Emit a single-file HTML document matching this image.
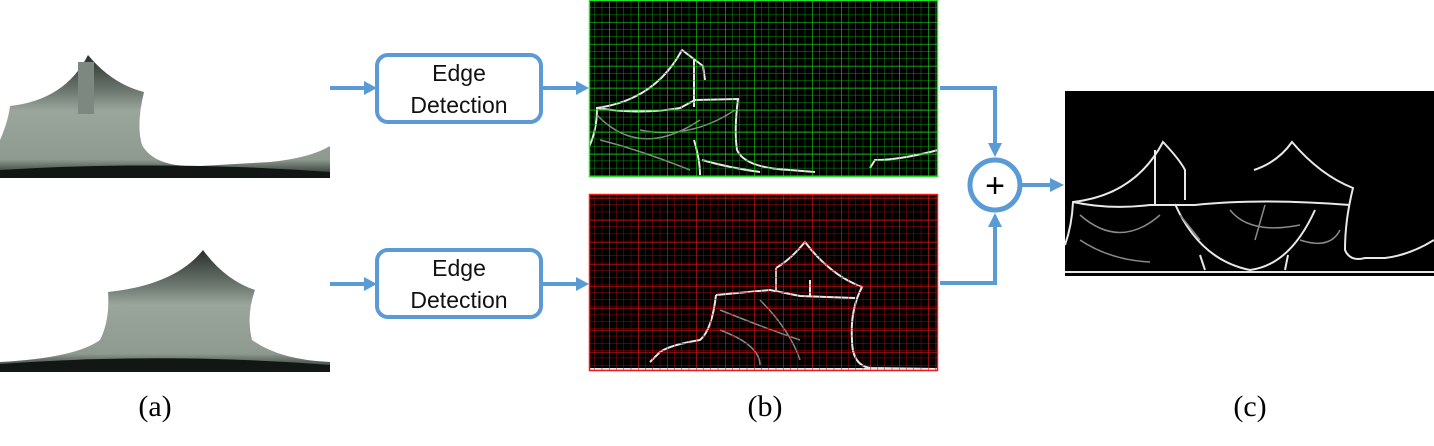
<!DOCTYPE html>
<html><head><meta charset="utf-8"><style>
html,body{margin:0;padding:0;background:#fff;width:1434px;height:446px;overflow:hidden}
svg{display:block}
.lbl{font-family:"Liberation Serif",serif;font-size:30px;fill:#000}
.box{font-family:"Liberation Sans",sans-serif;font-size:23px;fill:#111}
</style></head><body>
<svg width="1434" height="446" viewBox="0 0 1434 446">
<defs>
<linearGradient id="floor" x1="0" y1="0" x2="0" y2="1">
<stop offset="0" stop-color="#2a302c"/><stop offset="0.3" stop-color="#6f7a72"/><stop offset="0.45" stop-color="#9aa69c"/><stop offset="0.85" stop-color="#8e9a90"/><stop offset="1" stop-color="#1a201c"/></linearGradient>
<pattern id="ggrid" width="7.25" height="7.3" patternUnits="userSpaceOnUse"><path d="M0 0V7.3M0 0H7.25" stroke="#0a9a0a" stroke-width="0.9" fill="none"/></pattern>
<pattern id="ggrid2" width="29" height="22" patternUnits="userSpaceOnUse"><path d="M0 0V22M0 0H29" stroke="#22e022" stroke-width="1.1" fill="none"/></pattern>
<pattern id="rgrid" width="7.25" height="7.3" patternUnits="userSpaceOnUse"><path d="M0 0V7.3M0 0H7.25" stroke="#a00808" stroke-width="0.9" fill="none"/></pattern>
<pattern id="rgrid2" width="29" height="22" patternUnits="userSpaceOnUse"><path d="M0 0V22M0 0H29" stroke="#ee1a1a" stroke-width="1.1" fill="none"/></pattern>
</defs>

<!-- (a) top panorama -->
<g>
<path d="M0 140 Q8 122 10 106 Q65 100 88 55 Q112 84 144 92 Q136 125 142 145 Q155 168 200 166 L270 162 Q310 158 330 146 L330 178 L0 178 Z" fill="url(#floor)"/>
<rect x="78" y="62" width="16" height="52" fill="#7d8880"/>
<path d="M0 170 Q165 160 330 172 L330 178 L0 178Z" fill="#121614"/>
</g>
<!-- (a) bottom panorama -->
<g>
<path d="M0 362 Q75 358 100 340 Q110 320 108 292 Q175 285 203 250 Q225 280 255 290 Q246 315 252 340 Q280 360 330 362 L330 372 L0 372 Z" fill="url(#floor)"/>
<path d="M0 364 Q165 352 330 365 L330 372 L0 372Z" fill="#121614"/>
</g>

<!-- arrows and boxes -->
<g fill="none" stroke="#5b9bd5" stroke-width="4">
<path d="M330 88 H366"/>
<path d="M541 88 H577"/>
<path d="M330 284 H366"/>
<path d="M541 284 H577"/>
<path d="M940 88 H995 V145"/>
<path d="M940 283 H995 V225"/>
<path d="M1020 185 H1052"/>
<rect x="377" y="55" width="164" height="67" rx="11" stroke-width="4"/>
<rect x="377" y="250" width="164" height="67" rx="11" stroke-width="4"/>
<circle cx="995" cy="185" r="25" stroke-width="5"/>
</g>
<g fill="#5b9bd5">
<path d="M364 81 L377 88 L364 95Z"/><path d="M576 81 L589 88 L576 95Z"/>
<path d="M364 277 L377 284 L364 291Z"/><path d="M576 277 L589 284 L576 291Z"/>
<path d="M988 143 L995 157 L1002 143Z"/><path d="M988 227 L995 213 L1002 227Z"/>
<path d="M1050 178 L1064 185 L1050 192Z"/>
</g>
<text class="box" x="459" y="81" text-anchor="middle">Edge</text>
<text class="box" x="459" y="113" text-anchor="middle">Detection</text>
<text class="box" x="459" y="276" text-anchor="middle">Edge</text>
<text class="box" x="459" y="308" text-anchor="middle">Detection</text>
<text x="995" y="197" text-anchor="middle" font-family="Liberation Sans,sans-serif" font-size="34" fill="#000">+</text>

<!-- (b) green edge map -->
<g>
<rect x="589" y="0" width="349" height="177" fill="#000"/>
<g fill="none" stroke="#e8e8e8" stroke-width="2">
<path d="M589 147 Q597 130 597 108 Q655 100 682 50 L703 66 L705 80"/>
<path d="M597 108 Q640 115 680 108 L695 100 L738 99 Q734 130 737 150 Q745 168 790 170 L815 172"/>
<path d="M694 60 V107 M694 140 Q700 160 700 175 M702 160 Q730 168 760 172 M870 168 L875 160 Q900 160 938 150"/>
</g>
<g fill="none" stroke="#888" stroke-width="1.5">
<path d="M597 115 Q640 160 700 120 M640 130 Q690 140 735 110 M600 140 Q640 150 690 170"/>
</g>
<rect x="589" y="0" width="349" height="177" fill="url(#ggrid)"/>
<rect x="589" y="0" width="349" height="177" fill="url(#ggrid2)"/>
<rect x="589.5" y="0.5" width="348" height="176" fill="none" stroke="#22e022" stroke-width="1.5"/>
</g>
<!-- (b) red edge map -->
<g>
<rect x="589" y="194" width="349" height="177" fill="#000"/>
<g fill="none" stroke="#e8e8e8" stroke-width="2">
<path d="M776 268 Q790 260 805 242 Q830 275 862 287 Q850 310 852 340 Q852 365 870 368 L938 369"/>
<path d="M716 295 L770 290 L800 296 L855 298 M716 295 Q712 330 700 340 Q670 345 660 352 L650 362"/>
<path d="M589 369 H938 M776 268 V292 M810 280 V296"/>
</g>
<g fill="none" stroke="#888" stroke-width="1.5">
<path d="M720 310 Q770 330 800 340 M760 300 Q790 330 800 360 M720 330 Q760 345 760 365"/>
</g>
<rect x="589" y="194" width="349" height="177" fill="url(#rgrid)"/>
<rect x="589" y="194" width="349" height="177" fill="url(#rgrid2)"/>
<rect x="589.5" y="194.5" width="348" height="176" fill="none" stroke="#ee1a1a" stroke-width="1.5"/>
</g>

<!-- (c) result -->
<g>
<rect x="1065" y="91" width="369" height="185" fill="#000"/>
<g fill="none" stroke="#e8e8e8" stroke-width="2">
<path d="M1065 245 Q1072 225 1073 202 Q1135 195 1163 142 Q1180 160 1185 170 V200"/>
<path d="M1073 202 Q1110 210 1150 205 H1195 Q1260 198 1350 205"/>
<path d="M1254 170 Q1278 162 1292 142 Q1320 175 1353 188 Q1345 220 1345 250 Q1350 262 1365 258 L1385 258 Q1410 255 1434 240"/>
<path d="M1155 150 V204 M1175 204 Q1200 260 1250 270 Q1290 265 1315 210 M1065 272 H1434"/>
<path d="M1200 255 L1205 270 M1288 255 L1285 270"/>
</g>
<g fill="none" stroke="#8a8a8a" stroke-width="1.5">
<path d="M1080 215 Q1120 250 1160 215 M1230 210 Q1250 235 1300 225 M1180 215 L1200 240 M1265 205 L1255 240 M1080 240 Q1110 260 1150 262 M1300 240 Q1330 250 1340 230"/>
</g>
</g>

<text class="lbl" x="155" y="416" text-anchor="middle">(a)</text>
<text class="lbl" x="765" y="416" text-anchor="middle">(b)</text>
<text class="lbl" x="1250" y="416" text-anchor="middle">(c)</text>
</svg>
</body></html>
